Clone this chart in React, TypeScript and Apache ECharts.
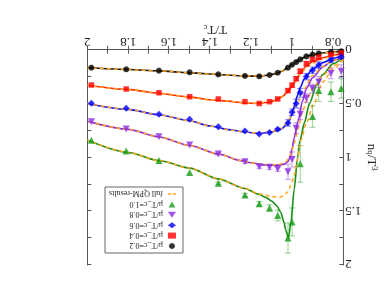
import React, { useEffect, useRef } from 'react';
import * as echarts from 'echarts';

// Lattice temperatures T/T_c
const T_LAT = [0.76, 0.81, 0.87, 0.90, 0.93, 0.96, 0.98, 1.00, 1.02, 1.07, 1.11, 1.16, 1.23, 1.36, 1.50, 1.65, 1.81, 1.98];

const MU_NAMES = ['μ/T_c=0.2', 'μ/T_c=0.4', 'μ/T_c=0.6', 'μ/T_c=0.8', 'μ/T_c=1.0'];
const QPM_NAME = 'full QPM-results';

// lattice points n_q/T^3
const PTS_02 = [0.015, 0.022, 0.035, 0.045, 0.062, 0.09, 0.115, 0.14, 0.167, 0.214, 0.235, 0.247, 0.244, 0.229, 0.21, 0.195, 0.182, 0.167];
const PTS_04 = [0.03, 0.045, 0.07, 0.09, 0.13, 0.2, 0.27, 0.33, 0.38, 0.458, 0.483, 0.5, 0.483, 0.458, 0.437, 0.4, 0.365, 0.328];
const PTS_06 = [0.065, 0.096, 0.142, 0.19, 0.25, 0.4, 0.5, 0.58, 0.68, 0.74, 0.768, 0.783, 0.756, 0.715, 0.647, 0.6, 0.545, 0.498];
const PTS_08 = [0.2, 0.22, 0.3, 0.36, 0.45, 0.6, 0.73, 1.02, 1.134, 1.109, 1.093, 1.087, 1.041, 0.969, 0.886, 0.808, 0.737, 0.669];
const PTS_10 = [0.36, 0.39, 0.38, 0.62, null, 1.06, null, 1.6, 1.75, 1.54, 1.47, 1.43, 1.35, 1.24, 1.14, 1.03, 0.94, 0.84];

// error bars
const ERR_02 = [0, 0, 0, 0, 0, 0, 0, 0, 0, 0, 0, 0, 0, 0, 0, 0, 0, 0];
const ERR_04 = [0.01, 0.01, 0.015, 0.015, 0.02, 0.02, 0.02, 0.02, 0.015, 0, 0, 0, 0, 0, 0, 0, 0, 0];
const ERR_06 = [0.02, 0.02, 0.03, 0.03, 0.03, 0.04, 0.04, 0.03, 0.03, 0.01, 0, 0, 0, 0, 0, 0, 0, 0];
const ERR_08 = [0.06, 0.05, 0.05, 0.04, 0.04, 0.05, 0.05, 0.07, 0.07, 0.02, 0.02, 0.015, 0.015, 0.01, 0, 0, 0, 0];
const ERR_10 = [0.09, 0.09, 0.1, 0.1, 0, 0.17, 0, 0.13, 0.14, 0.05, 0.03, 0.02, 0.015, 0.01, 0, 0, 0, 0];

// model fit curves [T/T_c, n_q/T^3]
const FIT_02 = [[0.75, 0.012], [0.8, 0.02], [0.85, 0.03], [0.9, 0.048], [0.93, 0.062], [0.96, 0.088], [0.98, 0.112], [1.0, 0.14], [1.02, 0.168], [1.05, 0.2], [1.08, 0.222], [1.12, 0.238], [1.17, 0.246], [1.23, 0.245], [1.3, 0.238], [1.4, 0.226], [1.5, 0.214], [1.65, 0.198], [1.8, 0.184], [2.0, 0.166]];
const FIT_04 = [[0.75, 0.03], [0.8, 0.05], [0.85, 0.075], [0.9, 0.11], [0.93, 0.15], [0.96, 0.22], [0.98, 0.28], [1.0, 0.34], [1.02, 0.39], [1.05, 0.44], [1.08, 0.47], [1.12, 0.49], [1.17, 0.5], [1.23, 0.495], [1.3, 0.48], [1.4, 0.465], [1.5, 0.44], [1.65, 0.405], [1.8, 0.37], [2.0, 0.33]];
const FIT_06 = [[0.75, 0.05], [0.8, 0.08], [0.85, 0.12], [0.9, 0.18], [0.94, 0.27], [0.96, 0.35], [0.975, 0.43], [0.985, 0.5], [1.0, 0.6], [1.02, 0.68], [1.05, 0.735], [1.1, 0.765], [1.16, 0.778], [1.23, 0.765], [1.3, 0.745], [1.4, 0.71], [1.5, 0.66], [1.65, 0.605], [1.8, 0.555], [2.0, 0.5]];
const FIT_08 = [[0.75, 0.065], [0.8, 0.1], [0.85, 0.16], [0.9, 0.26], [0.93, 0.36], [0.95, 0.48], [0.97, 0.66], [0.99, 0.82], [1.0, 0.92], [1.01, 1.0], [1.02, 1.04], [1.04, 1.065], [1.08, 1.075], [1.14, 1.07], [1.2, 1.05], [1.25, 1.03], [1.36, 0.97], [1.5, 0.89], [1.65, 0.81], [1.8, 0.74], [2.0, 0.665]];
const FIT_10 = [[0.75, 0.07], [0.8, 0.13], [0.85, 0.23], [0.88, 0.33], [0.915, 0.5], [0.94, 0.68], [0.961, 0.84], [0.973, 1.0], [0.99, 1.3], [1.005, 1.6], [1.018, 1.75], [1.03, 1.68], [1.04, 1.6], [1.055, 1.51], [1.075, 1.45], [1.1, 1.405], [1.13, 1.37], [1.16, 1.345], [1.23, 1.29], [1.36, 1.2], [1.5, 1.1], [1.65, 1.03], [1.8, 0.955], [2.0, 0.84]];

// full QPM results
const QPM_02 = [[0.75, 0.015], [0.8, 0.022], [0.85, 0.032], [0.9, 0.05], [0.93, 0.064], [0.96, 0.09], [0.98, 0.113], [1.0, 0.138], [1.02, 0.165], [1.05, 0.198], [1.08, 0.221], [1.12, 0.237], [1.17, 0.245], [1.23, 0.245], [1.3, 0.238], [1.4, 0.226], [1.5, 0.214], [1.65, 0.198], [1.8, 0.184], [2.0, 0.166]];
const QPM_04 = [[0.75, 0.035], [0.8, 0.055], [0.85, 0.085], [0.9, 0.125], [0.93, 0.165], [0.96, 0.23], [0.98, 0.285], [1.0, 0.34], [1.02, 0.385], [1.05, 0.435], [1.08, 0.468], [1.12, 0.488], [1.17, 0.498], [1.23, 0.495], [1.3, 0.48], [1.4, 0.465], [1.5, 0.44], [1.65, 0.405], [1.8, 0.37], [2.0, 0.33]];
const QPM_06 = [[0.75, 0.06], [0.8, 0.1], [0.85, 0.155], [0.9, 0.24], [0.94, 0.36], [0.975, 0.5], [1.0, 0.6], [1.02, 0.67], [1.05, 0.73], [1.1, 0.763], [1.16, 0.777], [1.23, 0.765], [1.3, 0.745], [1.4, 0.71], [1.5, 0.66], [1.65, 0.605], [1.8, 0.555], [2.0, 0.5]];
const QPM_08 = [[0.75, 0.09], [0.8, 0.15], [0.85, 0.24], [0.9, 0.36], [0.93, 0.48], [0.95, 0.58], [0.97, 0.73], [0.99, 0.87], [1.005, 0.97], [1.03, 1.04], [1.06, 1.065], [1.1, 1.072], [1.18, 1.058], [1.25, 1.03], [1.36, 0.97], [1.5, 0.89], [1.65, 0.81], [1.8, 0.74], [2.0, 0.665]];
const QPM_10 = [[0.75, 0.09], [0.8, 0.18], [0.85, 0.3], [0.894, 0.5], [0.93, 0.68], [0.957, 0.84], [0.975, 1.03], [0.99, 1.17], [1.005, 1.26], [1.02, 1.32], [1.04, 1.355], [1.06, 1.37], [1.1, 1.365], [1.16, 1.34], [1.23, 1.29], [1.36, 1.2], [1.5, 1.1], [1.65, 1.03], [1.8, 0.955], [2.0, 0.84]];

const X_LABELS = [0.8, 1.0, 1.2, 1.4, 1.6, 1.8, 2.0];
const X_TICKS = [0.8, 0.9, 1.0, 1.1, 1.2, 1.3, 1.4, 1.5, 1.6, 1.7, 1.8, 1.9, 2.0];
const Y_LABELS = [0, 0.5, 1, 1.5, 2];
const Y_TICKS = [0, 0.25, 0.5, 0.75, 1, 1.25, 1.5, 1.75, 2];

const FONT = '"Liberation Serif", "DejaVu Serif", serif';
const ORANGE = '#ffa41c';
const COLORS = ['#000000', '#ff0000', '#0000ff', '#8a2be2', '#139a13'];
const LINE_COLORS = ['#111111', '#ff2200', '#1010ff', '#8a2be2', '#128c12'];
const ERR_COLORS = ['rgba(0,0,0,0.5)', 'rgba(255,0,0,0.5)', 'rgba(0,0,255,0.5)', 'rgba(138,43,226,0.45)', 'rgba(19,154,19,0.45)'];
const SYMBOLS = ['circle', 'rect', 'diamond', 'triangle', 'path://M0,0L10,0L5,9Z'];
const SYMBOL_SIZES = [6, 5.5, 7, 7, 7];

const PTS = [PTS_02, PTS_04, PTS_06, PTS_08, PTS_10];
const ERRS = [ERR_02, ERR_04, ERR_06, ERR_08, ERR_10];
const FITS = [FIT_02, FIT_04, FIT_06, FIT_08, FIT_10];
const QPMS = [QPM_02, QPM_04, QPM_06, QPM_08, QPM_10];

export default function App() {
  const ref = useRef<HTMLDivElement>(null);
  useEffect(() => {
    if (!ref.current) return;
    const chart = echarts.init(ref.current, undefined, { renderer: 'svg' });
    const series: any[] = [];
    FITS.forEach((fit, i) => {
      series.push({
        type: 'line', name: 'fit' + i, data: fit, showSymbol: false, smooth: 0.25, smoothMonotone: 'x',
        lineStyle: { color: LINE_COLORS[i], width: 1.6 }, itemStyle: { color: LINE_COLORS[i] }, z: 2, silent: true,
      });
    });
    QPMS.forEach((q) => {
      series.push({
        type: 'line', name: QPM_NAME, data: q, showSymbol: false, smooth: 0.25, smoothMonotone: 'x',
        lineStyle: { color: ORANGE, width: 1.5, type: [4, 3] }, itemStyle: { color: ORANGE }, z: 3, silent: true,
      });
    });
    PTS.forEach((pts, i) => {
      const errData = T_LAT.map((t, k) => (pts[k] == null || !ERRS[i][k] ? null : [t, (pts[k] as number) - ERRS[i][k], (pts[k] as number) + ERRS[i][k]]))
        .filter((d) => d !== null);
      series.push({
        type: 'custom', name: 'err' + i, data: errData, z: 4, silent: true,
        encode: { x: 0, y: [1, 2] },
        renderItem: (params: any, api: any) => {
          const x = api.value(0);
          const lo = api.coord([x, api.value(1)]);
          const hi = api.coord([x, api.value(2)]);
          const w = 3;
          const st = { stroke: ERR_COLORS[i], lineWidth: 1 };
          return {
            type: 'group',
            children: [
              { type: 'line', shape: { x1: lo[0], y1: lo[1], x2: hi[0], y2: hi[1] }, style: st },
              { type: 'line', shape: { x1: lo[0] - w, y1: lo[1], x2: lo[0] + w, y2: lo[1] }, style: st },
              { type: 'line', shape: { x1: hi[0] - w, y1: hi[1], x2: hi[0] + w, y2: hi[1] }, style: st },
            ],
          };
        },
      });
      series.push({
        type: 'scatter', name: MU_NAMES[i],
        data: T_LAT.map((t, k) => (pts[k] == null ? null : [t, pts[k]])).filter((d) => d !== null),
        symbol: SYMBOLS[i], symbolSize: SYMBOL_SIZES[i],
        itemStyle: { color: COLORS[i] }, z: 5, silent: true,
      });
    });

    const axisLine = { show: true, lineStyle: { color: '#555555', width: 1 } };
    const labelStyle = { fontFamily: FONT, fontSize: 13, color: '#222222' };
    const subStyle = { fontFamily: FONT, fontSize: 9, lineHeight: 9, color: '#222222', verticalAlign: 'bottom', padding: [4, 0, 0, 0] };
    const supStyle = { fontFamily: FONT, fontSize: 9, lineHeight: 9, color: '#222222', verticalAlign: 'top', padding: [0, 0, 4, 0] };
    chart.setOption({
      animation: false,
      backgroundColor: '#ffffff',
      grid: { left: 44.7, right: 87.3, top: 35, bottom: 49.7, containLabel: false, outerBoundsMode: 'none' },
      legend: {
        orient: 'vertical', left: 205, top: 47,
        padding: [2, 4, 2, 7], itemGap: 0.4, itemWidth: 8, itemHeight: 6,
        borderColor: '#666666', borderWidth: 1, backgroundColor: '#ffffff',
        textStyle: { fontFamily: FONT, fontSize: 8, lineHeight: 10, color: '#222222' },
        data: [
          ...MU_NAMES.map((n) => ({ name: n })),
          { name: QPM_NAME, icon: 'path://M0,4L4,4L4,6L0,6ZM6,4L10,4L10,6L6,6Z', itemStyle: { color: ORANGE } },
        ],
      },
      xAxis: [
        {
          type: 'value', min: 0.75, max: 2, position: 'bottom',
          axisLine, splitLine: { show: false },
          axisTick: { inside: true, length: 4, lineStyle: { color: '#555555' }, customValues: X_TICKS },
          axisLabel: { ...labelStyle, margin: 1, customValues: X_LABELS },
          name: 'T/T{sub|c}', nameLocation: 'middle', nameGap: 13, nameMoveOverlap: false,
          nameTextStyle: { ...labelStyle, lineHeight: 13, rich: { sub: subStyle } },
        },
        {
          type: 'value', min: 0.75, max: 2, position: 'top',
          axisLine, splitLine: { show: false },
          axisTick: { inside: true, length: 4, lineStyle: { color: '#555555' }, customValues: X_TICKS },
          axisLabel: { show: false },
        },
      ],
      yAxis: [
        {
          type: 'value', min: 0, max: 2, position: 'left',
          axisLine, splitLine: { show: false },
          axisTick: { inside: true, length: 4, lineStyle: { color: '#555555' }, customValues: Y_TICKS },
          axisLabel: { ...labelStyle, margin: 2, customValues: Y_LABELS },
          name: 'n{sub|q}/T{sup|3}', nameLocation: 'middle', nameGap: 23, nameMoveOverlap: false,
          nameTextStyle: { ...labelStyle, lineHeight: 13, rich: { sub: subStyle, sup: supStyle } },
        },
        {
          type: 'value', min: 0, max: 2, position: 'right',
          axisLine, splitLine: { show: false },
          axisTick: { inside: true, length: 4, lineStyle: { color: '#555555' }, customValues: Y_TICKS },
          axisLabel: { show: false },
        },
      ],
      series,
    });
    return () => chart.dispose();
  }, []);
  return (
    <div
      ref={ref}
      style={{ position: 'fixed', left: 0, top: 0, width: 388, height: 300, transform: 'rotate(180deg)', background: '#fff' }}
    />
  );
}
